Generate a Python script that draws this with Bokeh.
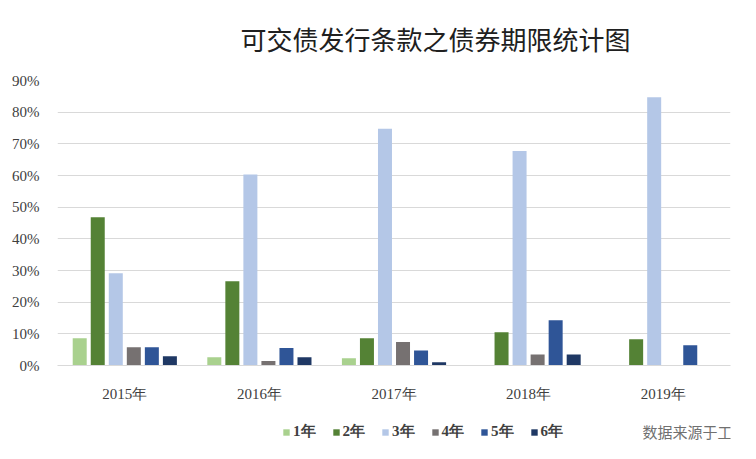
from bokeh.plotting import figure
from bokeh.layouts import column
from bokeh.models import FactorRange, Range1d, NumeralTickFormatter, Legend, LegendItem, Label, FixedTicker, ColumnDataSource
from bokeh.transform import dodge
from bokeh.embed import file_html
from bokeh.resources import INLINE

years = ["2015年", "2016年", "2017年", "2018年", "2019年"]
series_names = ["1年", "2年", "3年", "4年", "5年", "6年"]
v1 = [0.086, 0.026, 0.023, 0.0, 0.0]
v2 = [0.468, 0.266, 0.086, 0.105, 0.083]
v3 = [0.291, 0.603, 0.748, 0.677, 0.847]
v4 = [0.058, 0.014, 0.074, 0.035, 0.0]
v5 = [0.058, 0.055, 0.047, 0.143, 0.064]
v6 = [0.029, 0.026, 0.010, 0.035, 0.0]
colors = ["#A9D18E", "#548235", "#B4C7E7", "#767171", "#2F5597", "#1F3864"]
y_ticks = [0, 0.1, 0.2, 0.3, 0.4, 0.5, 0.6, 0.7, 0.8, 0.9]
title_text = "可交债发行条款之债券期限统计图"
source_note = "数据来源于工匠研究"

data = dict(year=years, v1=v1, v2=v2, v3=v3, v4=v4, v5=v5, v6=v6)
src = ColumnDataSource(data)
cols = ["v1", "v2", "v3", "v4", "v5", "v6"]
spacing = 0.134
bar_w = 0.104


def blank(h, xr, yr):
    f = figure(width=756, height=h, x_range=xr, y_range=yr,
               output_backend="svg", toolbar_location=None,
               x_axis_type=None, y_axis_type=None,
               min_border_left=0, min_border_right=0, min_border_top=0, min_border_bottom=0)
    f.outline_line_color = None
    f.xgrid.visible = False
    f.ygrid.visible = False
    f.background_fill_color = "white"
    f.border_fill_color = "white"
    return f


# --- title strip ---
p0 = blank(60, Range1d(0, 1), Range1d(0, 1))
p0.add_layout(Label(x=378, y=22, x_units="screen", y_units="screen", text=title_text,
                    text_font="Noto Sans CJK SC", text_font_size="26px", text_color="#202020",
                    text_align="center", text_baseline="middle"))

# --- main chart ---
p = figure(x_range=FactorRange(*years), y_range=Range1d(0, 0.9),
           width=756, height=345, output_backend="svg", toolbar_location=None,
           min_border_left=57, min_border_right=26, min_border_top=20, min_border_bottom=40)
p.outline_line_color = None
p.background_fill_color = "white"
p.border_fill_color = "white"

for i, (c, col) in enumerate(zip(cols, colors)):
    off = (i - 2.5) * spacing
    p.vbar(x=dodge("year", off, range=p.x_range), top=c, width=bar_w,
           source=src, fill_color=col, line_color=None)

p.yaxis.ticker = FixedTicker(ticks=y_ticks)
p.yaxis.formatter = NumeralTickFormatter(format="0%")
p.yaxis.axis_line_color = None
p.yaxis.major_tick_line_color = None
p.yaxis.minor_tick_line_color = None
p.yaxis.major_label_text_font = "Liberation Serif"
p.yaxis.major_label_text_font_size = "15px"
p.yaxis.major_label_text_color = "#404040"
p.yaxis.major_label_standoff = 12

p.xaxis.axis_line_color = "#D9D9D9"
p.xaxis.major_tick_line_color = None
p.xaxis.minor_tick_line_color = None
p.xaxis.major_label_text_font = "Liberation Serif"
p.xaxis.major_label_text_font_size = "15px"
p.xaxis.major_label_text_color = "#404040"
p.xaxis.major_label_standoff = 14

p.xgrid.grid_line_color = None
p.ygrid.grid_line_color = "#D9D9D9"

# --- legend strip (same series, drawn outside its visible range) ---
p2 = blank(54, FactorRange(*years), Range1d(10, 11))
items = []
for i, (c, name, col) in enumerate(zip(cols, series_names, colors)):
    off = (i - 2.5) * spacing
    r = p2.vbar(x=dodge("year", off, range=p2.x_range), top=c, width=bar_w,
                source=src, fill_color=col, line_color=None)
    items.append(LegendItem(label=name, renderers=[r]))

legend = Legend(items=items, orientation="horizontal", location=(225, 18),
                label_text_font="Liberation Serif", label_text_font_size="15px",
                label_text_font_style="bold", label_text_color="#404040",
                glyph_width=8, glyph_height=8, spacing=16, label_standoff=3,
                margin=0, padding=0,
                background_fill_alpha=0, border_line_color=None)
p2.add_layout(legend, "center")
p2.add_layout(Label(x=585, y=28, x_units="screen", y_units="screen", text=source_note,
                    text_font="Noto Sans CJK SC", text_font_size="15px", text_color="#707070",
                    text_align="left", text_baseline="middle"))

layout = column(p0, p, p2, spacing=0)
open("out.html", "w").write(file_html(layout, INLINE))
